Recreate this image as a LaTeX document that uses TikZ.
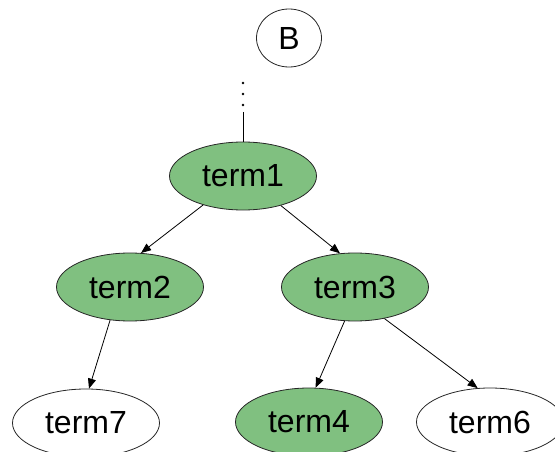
\documentclass[tikz,border=0pt]{standalone}
\usepackage{fontspec}
\setmainfont{Liberation Sans}
\usepackage{tikz}
\usetikzlibrary{arrows.meta, shapes.geometric}

\definecolor{termgreen}{RGB}{128,192,128}

\begin{document}
\begin{tikzpicture}[x=1pt, y=-1pt,
  term/.style={ellipse, draw=black!85, line width=0.8pt, inner sep=0pt,
    minimum width=147pt, minimum height=68pt, font=\fontsize{32}{38}\selectfont},
  hit/.style={term, fill=termgreen},
  miss/.style={term, fill=white},
  arr/.style={-{Triangle[length=10pt, width=8pt]}, line width=0.8pt}]
\clip (0, 0) rectangle (555, 452);

\node (b) at (289, 38) [ellipse, draw=black!85, line width=0.8pt, inner sep=0pt, minimum width=65pt, minimum height=58pt, font=\fontsize{32}{38}\selectfont] {B};
\node (term1) at (243, 176) [hit] {term1};
\node (term2) at (130, 287) [hit] {term2};
\node (term3) at (355, 287) [hit] {term3};
\node (term7) at (86, 423) [miss] {term7};
\node (term4) at (309, 422) [hit] {term4};
\node (term6) at (490, 422) [miss] {term6};

% the elided path above term1
\coordinate (dtop) at (243, 83);
\coordinate (dlow) at (243, 107);
\coordinate (dend) at (243, 112);
\draw[line width=2.8pt, line cap=round, dash pattern=on 0pt off 11pt] (dtop) -- (dlow);
\draw[line width=0.8pt] (dend) -- (term1);

\draw[arr] (term1.216) -- (term2.72);
\draw[arr] (term1.-38) -- (term3.114);
\draw[arr] (term2.-121) -- (term7.85);
\draw[arr] (term3.-107) -- (term4.79);
\draw[arr] (term3.-47) -- (term6.110);
\end{tikzpicture}
\end{document}
